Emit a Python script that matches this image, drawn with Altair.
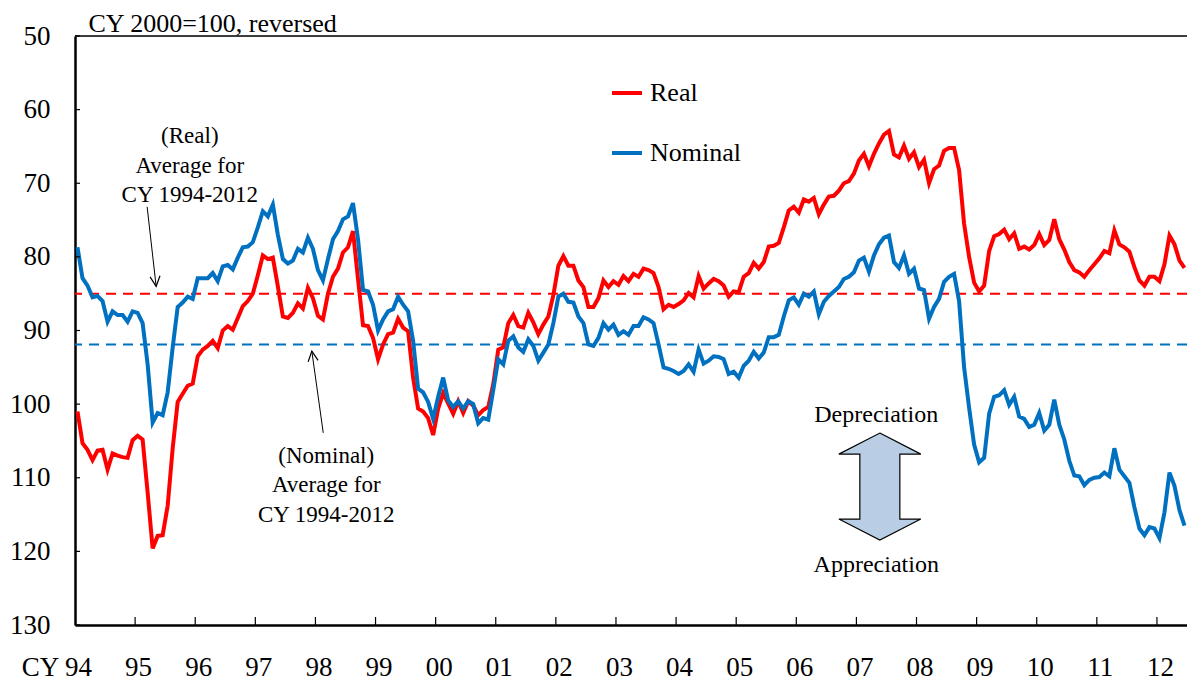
import altair as alt
import pandas as pd

FONT = "Liberation Serif"

# ---- data (monthly, Jan 1994 - Jun 2012), CY 2000 = 100 ----
real = [
    101.0, 105.3, 106.2, 107.6, 106.3, 106.2, 108.9, 106.7, 107.0, 107.2, 107.3, 104.9,  # 1994
    104.3, 104.8, 112.0, 119.6, 117.9, 117.8, 113.8, 106.0, 99.7, 98.6, 97.5, 97.2,      # 1995
    93.5, 92.6, 92.1, 91.4, 92.4, 90.0, 89.4, 89.9, 88.3, 86.7, 86.0, 85.0,              # 1996
    82.5, 79.8, 80.3, 80.1, 84.0, 88.1, 88.3, 87.6, 86.3, 87.0, 84.2, 85.6,              # 1997
    88.0, 88.5, 85.0, 82.7, 81.6, 79.4, 78.7, 76.5, 83.0, 89.3, 89.4, 91.0,              # 1998
    93.9, 91.9, 90.5, 90.3, 88.4, 89.6, 90.1, 96.4, 100.6, 101.0, 101.9, 104.2,          # 1999
    100.6, 98.5, 99.9, 101.3, 99.6, 101.2, 99.6, 100.2, 101.5, 100.8, 100.4, 97.3,       # 2000
    92.6, 92.3, 89.0, 87.9, 89.4, 89.6, 87.6, 88.9, 90.5, 89.2, 88.1, 85.2,              # 2001
    81.2, 79.9, 81.2, 81.2, 83.2, 84.1, 86.8, 86.8, 85.6, 83.2, 84.1, 83.3,              # 2002
    83.8, 82.6, 83.3, 82.3, 82.7, 81.6, 81.8, 82.2, 84.1, 87.1, 86.5, 86.8,              # 2003
    86.4, 85.9, 84.9, 85.5, 82.6, 84.3, 83.6, 83.0, 83.3, 83.9, 85.4, 84.7,              # 2004
    84.8, 82.7, 82.2, 80.8, 81.6, 80.7, 78.6, 78.5, 78.1, 76.0, 73.7, 73.2,              # 2005
    74.0, 72.2, 72.5, 72.0, 74.2, 72.9, 71.8, 71.7, 71.0, 70.0, 69.7, 68.7,              # 2006
    66.9, 66.0, 67.7, 66.0, 64.6, 63.4, 62.9, 66.1, 66.5, 64.9, 66.7, 65.8,              # 2007
    67.8, 66.8, 70.0, 68.1, 67.6, 65.6, 65.2, 65.2, 68.2, 75.5, 80.0, 83.5,              # 2008
    84.7, 83.9, 79.2, 77.2, 76.9, 76.3, 77.6, 76.8, 78.9, 78.6, 79.0, 78.4,              # 2009
    76.9, 78.4, 77.7, 74.9, 77.6, 79.0, 80.7, 81.8, 82.1, 82.7, 81.8, 81.0,              # 2010
    80.2, 79.2, 79.5, 76.4, 78.3, 78.7, 79.3, 81.4, 83.2, 83.9, 82.7, 82.7,              # 2011
    83.3, 81.0, 77.1, 78.3, 80.5, 81.5,                                                  # 2012
]
nominal = [
    78.7, 82.9, 83.9, 85.5, 85.3, 86.0, 88.8, 87.4, 87.9, 87.9, 88.8, 87.4,              # 1994
    87.6, 89.0, 94.6, 102.5, 101.2, 101.5, 98.4, 92.3, 86.8, 86.2, 85.4, 85.7,           # 1995
    82.9, 82.9, 82.9, 82.2, 83.3, 81.3, 81.1, 81.7, 80.1, 78.7, 78.6, 78.0,              # 1996
    76.0, 73.8, 74.5, 72.9, 77.0, 80.3, 80.9, 80.5, 78.9, 79.4, 77.4, 78.9,              # 1997
    81.8, 83.2, 80.3, 77.6, 76.5, 74.9, 74.5, 72.7, 77.6, 84.5, 84.7, 86.5,              # 1998
    90.0, 88.5, 87.4, 87.1, 85.4, 86.5, 87.4, 91.4, 97.9, 98.4, 99.7, 102.0,             # 1999
    99.0, 96.4, 99.5, 100.4, 99.6, 100.6, 99.6, 100.0, 102.6, 101.9, 102.1, 98.1,        # 2000
    93.9, 94.6, 91.4, 90.8, 92.3, 92.9, 91.2, 92.1, 94.1, 93.0, 91.9, 89.0,              # 2001
    85.4, 85.0, 86.1, 86.2, 88.1, 89.0, 91.9, 92.1, 91.0, 89.0, 89.9, 89.2,              # 2002
    90.6, 90.1, 90.6, 89.4, 89.4, 88.2, 88.5, 89.0, 91.9, 95.0, 95.2, 95.5,              # 2003
    95.9, 95.5, 94.6, 95.6, 92.6, 94.5, 94.1, 93.5, 93.6, 93.9, 95.9, 95.6,              # 2004
    96.4, 94.8, 94.1, 92.9, 93.8, 93.0, 90.9, 90.9, 90.6, 88.1, 85.9, 85.5,              # 2005
    86.5, 85.0, 85.4, 84.7, 87.8, 86.1, 85.3, 84.7, 84.1, 83.0, 82.7, 82.1,              # 2006
    80.5, 80.1, 82.0, 79.8, 78.3, 77.4, 77.1, 80.7, 81.5, 79.8, 82.3, 81.6,              # 2007
    84.3, 84.5, 88.4, 86.8, 85.7, 83.4, 82.7, 82.3, 86.0, 95.0, 100.5, 105.5,            # 2008
    107.9, 107.3, 101.3, 99.0, 98.8, 98.1, 100.1, 99.0, 101.7, 102.0, 103.1, 102.8,      # 2009
    101.2, 103.6, 102.8, 99.4, 102.8, 104.8, 107.7, 109.7, 109.8, 111.0, 110.3, 110.0,   # 2010
    109.9, 109.3, 109.8, 106.0, 108.9, 109.8, 110.7, 114.0, 116.9, 117.8, 116.7, 116.9,  # 2011
    118.2, 114.7, 109.3, 111.1, 114.4, 116.5,                                            # 2012
]
series_names = ["Real", "Nominal"]
series_colors = ["#ff0000", "#0070c0"]
averages = [85.0, 91.9]          # CY 1994-2012 averages (Real, Nominal)
year_ticks = list(range(1994, 2013))
value_ticks = [50, 60, 70, 80, 90, 100, 110, 120, 130]

# annotation texts (positions in data units: year, index value)
note_text = ["(Real)", "Average for", "CY 1994-2012",
             "(Nominal)", "Average for", "CY 1994-2012",
             "Depreciation", "Appreciation"]
note_t = [1995.91, 1995.91, 1995.91, 1998.18, 1998.18, 1998.18, 2007.33, 2007.33]
note_v = [64.6, 68.6, 72.5, 108.0, 112.0, 116.0, 102.4, 122.8]
note_size = [23, 23, 23, 23, 23, 23, 24, 24]
arrow_t = [1995.20, 1998.13]
arrow_v = [73.2, 103.9]
arrow_t2 = [1995.35, 1997.94]
arrow_v2 = [84.0, 92.8]
arrow_angle = [353.6, 172.5]
dbl_arrow_t = [2007.39]
dbl_arrow_v = [111.2]

# ---- tables ----
months = pd.period_range("1994-01", periods=len(real), freq="M")
t = [p.year + (p.month - 0.5) / 12 for p in months]
real_df = pd.DataFrame({"t": t, "value": real, "series": "Real"})
nom_df = pd.DataFrame({"t": t, "value": nominal, "series": "Nominal"})
notes_df = pd.DataFrame({"t": note_t, "value": note_v, "text": note_text, "size": note_size})
arrows_df = pd.DataFrame({"t": arrow_t, "value": arrow_v, "t2": arrow_t2, "value2": arrow_v2,
                          "angle": arrow_angle})
dbl_df = pd.DataFrame({"t": dbl_arrow_t, "value": dbl_arrow_v})

W, H = 1112, 589
xscale = alt.Scale(domain=[1994, 2012.5], nice=False, zero=False)
yscale = alt.Scale(domain=[50, 130], reverse=True, nice=False, zero=False)

xaxis = alt.Axis(values=year_ticks, labelExpr="substring(toString(datum.value), 2)",
                 ticks=False, tickSize=0, grid=False, domainColor="black", domainWidth=2.5,
                 labelFont=FONT, labelFontSize=27, labelColor="black", labelPadding=50,
                 labelBaseline="alphabetic", labelFlush=False, labelOverlap=False,
                 labelOffset=3,
                 title="CY", titleFont=FONT, titleFontSize=27, titleFontWeight="normal",
                 titleColor="black", titleX=-35, titleY=50, titleAlign="center",
                 titleBaseline="alphabetic", titleAngle=0)
yaxis = alt.Axis(values=value_ticks, ticks=False, tickSize=0, grid=False,
                 domainColor="black", domainWidth=2.5,
                 labelFont=FONT, labelFontSize=27, labelColor="black", labelPadding=25,
                 title="CY 2000=100, reversed", titleFont=FONT, titleFontSize=26,
                 titleFontWeight="normal", titleColor="black", titleAngle=0,
                 titleAlign="left", titleBaseline="alphabetic", titleX=13, titleY=-5)

X = alt.X("t:Q", scale=xscale, axis=xaxis)
Y = alt.Y("value:Q", scale=yscale, axis=yaxis)

color = alt.Color(
    "series:N",
    scale=alt.Scale(domain=series_names, range=series_colors),
    legend=alt.Legend(title=None, orient="none", legendX=535, legendY=40, direction="vertical",
                      symbolType="stroke", symbolSize=900, symbolStrokeWidth=4,
                      labelFont=FONT, labelFontSize=26, labelColor="black", labelOffset=6,
                      rowPadding=30, padding=0, labelLimit=400),
)

real_line = alt.Chart(real_df).mark_line(strokeWidth=4).encode(x=X, y=Y, color=color)
nom_line = alt.Chart(nom_df).mark_line(strokeWidth=4).encode(x=X, y=Y, color=color)

avg_real = alt.Chart(pd.DataFrame({"value": [averages[0]]})).mark_rule(
    color=series_colors[0], strokeWidth=2, strokeDash=[10, 7]).encode(y=Y)
avg_nom = alt.Chart(pd.DataFrame({"value": [averages[1]]})).mark_rule(
    color=series_colors[1], strokeWidth=2, strokeDash=[10, 7]).encode(y=Y)

top_line = alt.Chart(pd.DataFrame({"value": [value_ticks[0]]})).mark_rule(
    color="black", strokeWidth=1.5).encode(y=Y)

y_ticks = alt.Chart(pd.DataFrame({"value": value_ticks})).mark_rule(
    color="black", strokeWidth=1.2).encode(y=Y, x=alt.value(0), x2=alt.value(5))
x_ticks = alt.Chart(pd.DataFrame({"t": year_ticks[1:]})).mark_rule(
    color="black", strokeWidth=1.2).encode(x=X, y=alt.value(H), y2=alt.value(H - 8))

notes = alt.Chart(notes_df).mark_text(font=FONT, align="center", baseline="alphabetic",
                                      color="black").encode(
    x=X, y=Y, text="text:N", size=alt.Size("size:Q", scale=None, legend=None))

arrow_lines = alt.Chart(arrows_df).mark_rule(color="black", strokeWidth=1).encode(
    x=X, y=Y, x2="t2:Q", y2="value2:Q")
arrow_heads = alt.Chart(arrows_df).mark_point(
    shape="M-0.5,-1L0,0L0.5,-1", size=400, filled=False, stroke="black",
    strokeWidth=1.2, opacity=1).encode(
    x="t2:Q", y="value2:Q", angle=alt.Angle("angle:Q", scale=None))

dbl_path = ("M0,-1L0.766,-0.607L0.374,-0.607L0.374,0.607L0.766,0.607L0,1"
            "L-0.766,0.607L-0.374,0.607L-0.374,-0.607L-0.766,-0.607Z")
dbl_arrow = alt.Chart(dbl_df).mark_point(
    shape=dbl_path, size=11449, filled=True, fill="#b9cde5", stroke="black",
    strokeWidth=1.2, opacity=1).encode(x=X, y=Y)

chart = alt.layer(
    avg_real, avg_nom, real_line, nom_line, top_line, y_ticks, x_ticks,
    notes, arrow_lines, arrow_heads, dbl_arrow,
).properties(
    width=W, height=H, autosize="none",
    padding={"left": 67, "top": 28, "right": 0, "bottom": 56},
).configure_view(stroke=None).configure(background="white")

chart.save("out.html", embed_options={"renderer": "svg", "actions": False})
